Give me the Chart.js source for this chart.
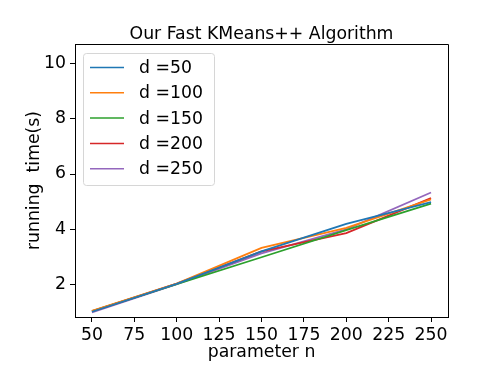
<!DOCTYPE html>
<html>
<head>
<meta charset="utf-8">
<script src="https://cdn.jsdelivr.net/npm/chart.js@4"></script>
<style>
  body { margin: 0; background: #fff; }
  #grafico { display: block; }
</style>
</head>
<body>
<canvas id="grafico" width="498" height="374"></canvas>
<script>
// Datos
const valoresN = [50, 100, 150, 200, 250];
const etiquetasSerie = ['d =50', 'd =100', 'd =150', 'd =200', 'd =250'];
const tiempoD50 = [1.02, 2.03, 3.20, 4.20, 4.98];
const tiempoD100 = [1.05, 2.04, 3.33, 4.05, 5.08];
const tiempoD150 = [1.04, 2.02, 2.99, 3.97, 4.93];
const tiempoD200 = [1.03, 2.04, 3.20, 3.86, 5.13];
const tiempoD250 = [1.00, 2.02, 3.13, 4.00, 5.33];
const ticksX = [50, 75, 100, 125, 150, 175, 200, 225, 250];
const ticksY = [2, 4, 6, 8, 10];

const colores = ['#1f77b4', '#ff7f0e', '#2ca02c', '#d62728', '#9467bd'];
const fuente = 'DejaVu Sans';
const tamano = 17.3;
const series = [tiempoD50, tiempoD100, tiempoD150, tiempoD200, tiempoD250];

// Título y leyenda al estilo matplotlib
const pluginDecoracion = {
    id: 'decoracion',
    afterDraw(chart) {
        const ctx = chart.ctx;
        const area = chart.chartArea;
        ctx.save();
        ctx.fillStyle = '#000';
        ctx.font = `${tamano}px "${fuente}"`;
        ctx.textAlign = 'center';
        ctx.textBaseline = 'alphabetic';
        ctx.fillText('Our Fast KMeans++ Algorithm', (area.left + area.right) / 2, 39);

        // Caja de la leyenda
        const x0 = 83.5, y0 = 53.5, ancho = 131, alto = 132;
        ctx.beginPath();
        ctx.roundRect(x0, y0, ancho, alto, 3);
        ctx.fillStyle = 'rgba(255,255,255,0.8)';
        ctx.fill();
        ctx.strokeStyle = '#d6d6d6';
        ctx.lineWidth = 1;
        ctx.stroke();

        ctx.textAlign = 'left';
        ctx.textBaseline = 'middle';
        etiquetasSerie.forEach((etiqueta, i) => {
            const y = 67.5 + i * 25.3;
            ctx.beginPath();
            ctx.moveTo(90, y);
            ctx.lineTo(124, y);
            ctx.strokeStyle = colores[i];
            ctx.lineWidth = 1.5;
            ctx.stroke();
            ctx.fillStyle = '#000';
            ctx.fillText(etiqueta, 139, y + 1);
        });
        ctx.restore();
    }
};

new Chart(document.getElementById('grafico').getContext('2d'), {
    type: 'line',
    data: {
        datasets: series.map((valores, i) => ({
            label: etiquetasSerie[i],
            data: valoresN.map((n, j) => ({ x: n, y: valores[j] })),
            borderColor: colores[i],
            backgroundColor: colores[i],
            borderWidth: 1.8,
            pointRadius: 0,
            tension: 0,
            fill: false
        }))
    },
    options: {
        responsive: false,
        animation: false,
        layout: { padding: { top: 44, right: 50, left: 0, bottom: 0 } },
        plugins: {
            legend: { display: false },
            title: { display: false },
            tooltip: { enabled: false }
        },
        scales: {
            x: {
                type: 'linear',
                min: 40,
                max: 260,
                afterBuildTicks: escala => { escala.ticks = ticksX.map(v => ({ value: v })); },
                afterFit: escala => { escala.height = 57; },
                ticks: { color: '#000', font: { family: fuente, size: tamano }, padding: 3, maxRotation: 0, autoSkip: false },
                grid: { display: true, drawOnChartArea: false, tickLength: 5, color: '#000' },
                border: { display: true, color: '#000', width: 1 },
                title: { display: true, text: 'parameter n', color: '#000', font: { family: fuente, size: tamano }, padding: { top: 0, bottom: 11 } }
            },
            y: {
                min: 0.83,
                max: 10.70,
                afterBuildTicks: escala => { escala.ticks = ticksY.map(v => ({ value: v })); },
                afterFit: escala => { escala.width = 75; },
                ticks: { color: '#000', font: { family: fuente, size: tamano }, padding: 4 },
                grid: { display: true, drawOnChartArea: false, tickLength: 5, color: '#000' },
                border: { display: true, color: '#000', width: 1 },
                title: { display: true, text: 'running  time(s)', color: '#000', font: { family: fuente, size: tamano }, padding: { top: 24, bottom: 0 } }
            }
        }
    },
    plugins: [pluginDecoracion, {
        id: 'bordeSuperior',
        afterDraw(chart) {
            const { ctx, chartArea: a } = chart;
            ctx.save();
            ctx.strokeStyle = '#000';
            ctx.lineWidth = 1;
            ctx.beginPath();
            ctx.moveTo(a.left, a.top + 0.5);
            ctx.lineTo(a.right + 0.5, a.top + 0.5);
            ctx.lineTo(a.right + 0.5, a.bottom);
            ctx.stroke();
            ctx.restore();
        }
    }]
});
</script>
</body>
</html>
